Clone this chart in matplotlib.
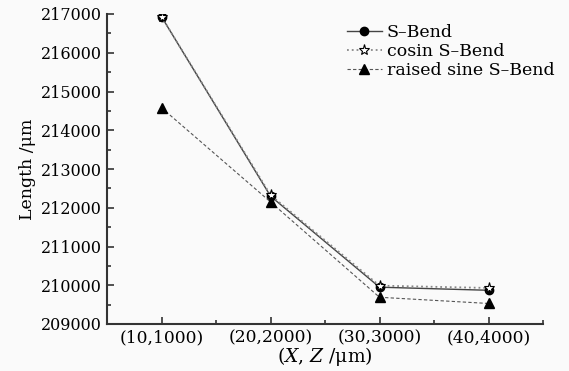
import matplotlib
matplotlib.use("Agg")
import matplotlib.pyplot as plt
from matplotlib.ticker import MultipleLocator

# data
categories = ["(10,1000)", "(20,2000)", "(30,3000)", "(40,4000)"]
s_bend = [216930, 212300, 209950, 209870]
cosin_s_bend = [216930, 212330, 209990, 209930]
raised_sine = [214580, 212150, 209690, 209530]

plt.rcParams['font.family'] = ['DejaVu Serif']
plt.rcParams['mathtext.fontset'] = 'dejavuserif'

fig = plt.figure(figsize=(5.69, 3.71), dpi=100, facecolor='#fafafa')
ax = fig.add_axes([107/569, 1 - 324/371, 436/569, 310/371])
ax.set_facecolor('#fafafa')

x = range(len(categories))
ax.plot(x, s_bend, '-', color='#444444', lw=1.0, marker='o', ms=6,
        mfc='black', mec='black', label="S\u2013Bend")
ax.plot(x, cosin_s_bend, ':', color='#888888', lw=1.3, marker='*', ms=8,
        mfc='white', mec='black', mew=0.8, label="cosin S\u2013Bend")
ax.plot(x, raised_sine, '--', color='#555555', lw=0.8, dashes=(3, 2),
        marker='^', ms=7, mfc='black', mec='black', label="raised sine S\u2013Bend")

ax.set_xlim(-0.5, 3.5)
ax.set_ylim(209000, 217000)
ax.set_xticks(list(x))
ax.set_xticklabels(categories)
ax.xaxis.set_minor_locator(MultipleLocator(0.5))
ax.yaxis.set_major_locator(MultipleLocator(1000))
ax.yaxis.set_minor_locator(MultipleLocator(500))

ax.tick_params(which='both', direction='in', top=False, right=False,
               width=1.2, color='#333333')
ax.tick_params(axis='y', labelsize=11.5)
ax.tick_params(axis='x', labelsize=12.3)
ax.tick_params(which='major', length=5, pad=4)
ax.tick_params(which='minor', length=3)
for side in ['top', 'right']:
    ax.spines[side].set_visible(False)
for side in ['left', 'bottom']:
    ax.spines[side].set_linewidth(1.5)
    ax.spines[side].set_color('#333333')

ax.set_ylabel("Length /\u03bcm", fontsize=12.5, labelpad=3)
ax.set_xlabel("($\\it{X}$, $\\it{Z}$ /\u03bcm)", fontsize=13.5, labelpad=-1)

ax.legend(loc='upper right', bbox_to_anchor=(1.05, 1.0), frameon=False,
          fontsize=12.5, handlelength=2.0, handletextpad=0.3,
          labelspacing=0.1, borderaxespad=0.2)

plt.savefig("out.png", dpi=100, facecolor='#fafafa')
